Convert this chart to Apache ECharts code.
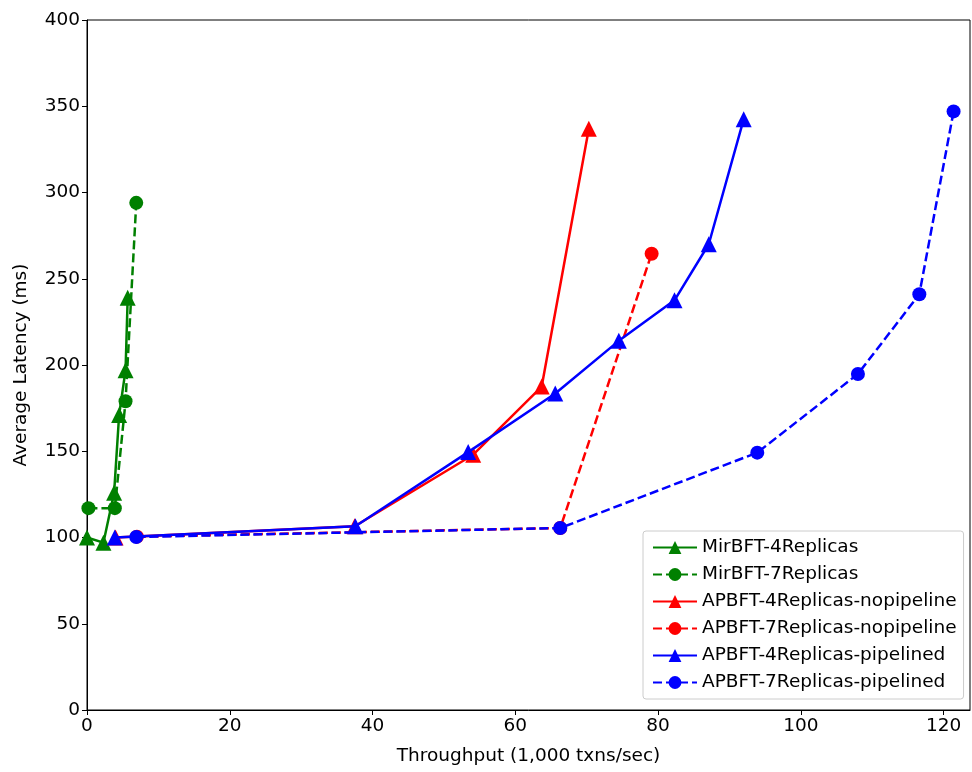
<!DOCTYPE html>
<html>
<head>
<meta charset="utf-8">
<script src="https://cdn.jsdelivr.net/npm/echarts@6/dist/echarts.min.js"></script>
<style>html,body{margin:0;padding:0;background:#fff}#c{width:972px;height:772px}</style>
</head>
<body>
<div id="c"></div>
<script>
const xTicks = [0, 20, 40, 60, 80, 100, 120];
const yTicks = [0, 50, 100, 150, 200, 250, 300, 350, 400];

const seriesNames = ["MirBFT-4Replicas","MirBFT-7Replicas","APBFT-4Replicas-nopipeline","APBFT-7Replicas-nopipeline","APBFT-4Replicas-pipelined","APBFT-7Replicas-pipelined"];

const mir4X = [0, 2.3, 3.8, 4.5, 5.4, 5.7];
const mir4Y = [100, 97, 126, 171, 197, 239];
const mir7X = [0.2, 3.9, 5.4, 6.9];
const mir7Y = [117, 117, 179, 294];
const ap4noX = [4, 37.5, 54.1, 63.7, 70.3];
const ap4noY = [100, 106.5, 148, 187.5, 337];
const ap7noX = [7, 66.3, 79.1];
const ap7noY = [100.5, 105.5, 264.5];
const ap4pX = [3.9, 37.6, 53.4, 65.6, 74.5, 82.3, 87.1, 92.0];
const ap4pY = [100, 106.5, 149.5, 183.5, 214, 237.5, 270, 342.5];
const ap7pX = [6.9, 66.3, 93.9, 108.0, 116.6, 121.4];
const ap7pY = [100.3, 105.5, 149.2, 194.8, 241, 347];

function pts(xs, ys){ return xs.map((x,i)=>[x, ys[i]]); }

const defs = [
  [mir4X, mir4Y, 'green', 'triangle', 'solid'],
  [mir7X, mir7Y, 'green', 'circle', 'dashed'],
  [ap4noX, ap4noY, 'red', 'triangle', 'solid'],
  [ap7noX, ap7noY, 'red', 'circle', 'dashed'],
  [ap4pX, ap4pY, 'blue', 'triangle', 'solid'],
  [ap7pX, ap7pY, 'blue', 'circle', 'dashed']
];

const series = defs.map((d, i) => ({
  name: seriesNames[i],
  type: 'line',
  data: pts(d[0], d[1]),
  symbol: d[3],
  symbolSize: d[3] === 'triangle' ? 16 : 14,
  itemStyle: { color: d[2] },
  lineStyle: { color: d[2], width: 2.5, type: d[4] === 'dashed' ? [9, 4] : 'solid' },
  animation: false,
  z: 2 + i
}));

const font = 'DejaVu Sans';
const fs = 18.5;
const chart = echarts.init(document.getElementById('c'), null, { renderer: 'canvas' });
chart.setOption({
  backgroundColor: '#fff',
  animation: false,
  grid: { left: 87, right: 2, top: 20, bottom: 62, show: true, borderColor: '#000', borderWidth: 1, backgroundColor: 'transparent' },
  xAxis: {
    type: 'value', min: 0, max: 123.7, interval: 20,
    name: 'Throughput (1,000 txns/sec)', nameLocation: 'middle', nameGap: 37,
    nameTextStyle: { fontFamily: font, fontSize: fs, color: '#000' },
    axisLine: { lineStyle: { color: '#000', width: 1 } },
    axisTick: { show: true, length: 5, lineStyle: { color: '#000' } },
    axisLabel: { fontFamily: font, fontSize: fs, color: '#000', margin: 7, showMaxLabel: false,
      formatter: v => xTicks.includes(v) ? String(v) : '' },
    splitLine: { show: false }
  },
  yAxis: {
    type: 'value', min: 0, max: 400, interval: 50,
    name: 'Average Latency (ms)', nameLocation: 'middle', nameGap: 56, nameRotate: 90,
    nameTextStyle: { fontFamily: font, fontSize: fs, color: '#000' },
    axisLine: { show: true, lineStyle: { color: '#000', width: 1 } },
    axisTick: { show: true, length: 5, lineStyle: { color: '#000' } },
    axisLabel: { fontFamily: font, fontSize: fs, color: '#000', margin: 7,
      formatter: v => yTicks.includes(v) ? String(v) : '' },
    splitLine: { show: false }
  },
  legend: {
    orient: 'vertical', left: 643, top: 531,
    data: seriesNames,
    itemWidth: 44, itemHeight: 16, itemGap: 6,
    padding: [6, 7, 6, 9],
    backgroundColor: '#fff', borderColor: '#ccc', borderWidth: 1, borderRadius: 3,
    textStyle: { fontFamily: font, fontSize: fs, color: '#000', lineHeight: 21 }
  },
  series: series
});
</script>
</body>
</html>
